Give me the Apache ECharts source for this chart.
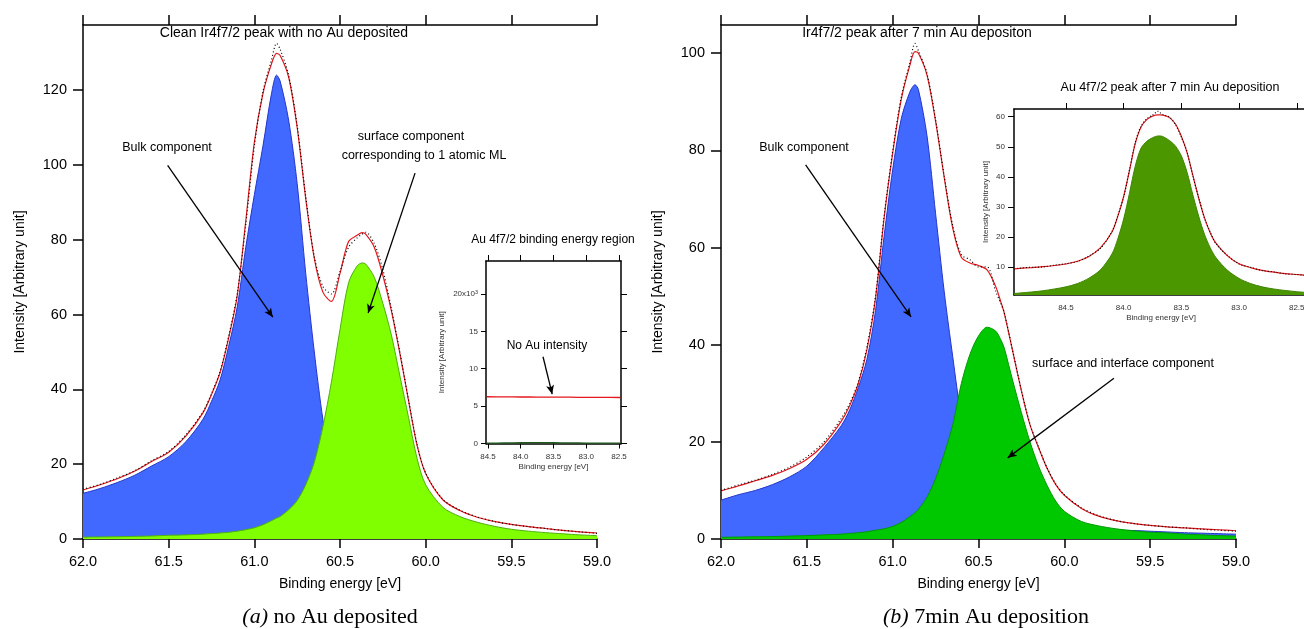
<!DOCTYPE html>
<html>
<head>
<meta charset="utf-8">
<title>Ir4f7/2 XPS</title>
<script src="https://cdn.jsdelivr.net/npm/echarts@6/dist/echarts.min.js"></script>
<style>
html, body { margin: 0; padding: 0; background: #fff; }
#xpsChart { width: 1304px; height: 629px; }
</style>
</head>
<body>
<div id="xpsChart"></div>
<script>
// 结合能 (eV) 
var energyIr = [62.0, 61.9, 61.8, 61.7, 61.6, 61.5, 61.4, 61.3, 61.25, 61.2, 61.15, 61.1, 61.05, 61.0, 60.95, 60.9, 60.87, 60.85, 60.8, 60.75, 60.7, 60.65, 60.6, 60.55, 60.5, 60.45, 60.4, 60.37, 60.35, 60.3, 60.25, 60.2, 60.15, 60.1, 60.05, 60.0, 59.9, 59.8, 59.7, 59.6, 59.5, 59.4, 59.3, 59.2, 59.1, 59.0];

// (a) 无Au
var bulkA = [12.2, 13.5, 15.1, 17.0, 19.5, 22.0, 26.0, 32.0, 36.8, 42.5, 51.5, 62, 78, 92, 105, 119, 124, 122.5, 112, 95, 71, 50, 32, 19, 13, 10, 7.5, 6.5, 6, 5, 4.2, 3.6, 3.1, 2.7, 2.4, 2.1, 1.7, 1.4, 1.2, 1.0, 0.9, 0.8, 0.7, 0.6, 0.55, 0.5];
var surfA = [0.5, 0.55, 0.6, 0.7, 0.8, 1.0, 1.1, 1.3, 1.45, 1.6, 1.8, 2.1, 2.5, 3.0, 3.8, 4.9, 5.6, 6.0, 7.8, 10.3, 14.5, 20.5, 30, 42, 56, 68.5, 73, 73.8, 73.5, 70, 63, 54.5, 43.5, 32.5, 21.5, 14.5, 8.5, 6.0, 4.5, 3.4, 2.6, 2.1, 1.7, 1.4, 1.1, 0.9];
var fitA = [13.1, 14.5, 16.1, 18.1, 20.7, 23.2, 27.5, 33.7, 38.6, 44.5, 53.7, 65, 85, 106, 119, 127, 129.8, 129.3, 123.5, 110, 91, 75, 66, 63.5, 71, 79.5, 81.2, 81.9, 81.5, 78, 70.5, 61, 49.5, 37, 25, 17.5, 10.5, 7.6, 5.8, 4.7, 3.9, 3.3, 2.8, 2.3, 1.9, 1.6];
var dataA = [13.3, 14.6, 16.3, 18.2, 20.9, 23.4, 27.8, 34.0, 38.9, 44.8, 54.2, 65.5, 84, 105, 119.5, 128, 132.5, 131, 124, 110.5, 91.5, 75.5, 67.5, 65.5, 71.5, 78, 80.5, 81.5, 82, 79, 72, 61.5, 49.8, 37.2, 25.2, 17.6, 10.6, 7.7, 5.9, 4.7, 3.9, 3.3, 2.8, 2.3, 1.9, 1.5];

// (b) 7min Au
var bulkB = [8.0, 9.1, 10.0, 11.2, 12.8, 15.0, 18.8, 23.3, 26.6, 31.2, 37, 47, 62.3, 76, 86.5, 92, 93.5, 92.5, 83, 67, 51, 37.5, 25, 17, 12, 8.8, 6.6, 5.6, 5.0, 4.0, 3.4, 3.0, 2.7, 2.5, 2.3, 2.2, 2.0, 1.9, 1.8, 1.75, 1.6, 1.45, 1.3, 1.2, 1.1, 1.0];
var surfB = [0.35, 0.4, 0.45, 0.5, 0.6, 0.7, 0.85, 1.0, 1.15, 1.3, 1.5, 1.8, 2.1, 2.6, 3.4, 4.6, 5.4, 6.1, 8.6, 12.4, 17.5, 23.5, 32, 38, 41.8, 43.6, 42.8, 41, 39.3, 32.5, 26, 20, 15, 11, 7.8, 5.7, 3.6, 2.7, 2.1, 1.7, 1.4, 1.25, 1.0, 0.85, 0.7, 0.6];
var fitB = [9.9, 10.9, 12.0, 13.1, 14.5, 16.4, 19.5, 24.2, 27.5, 32, 39, 49.5, 66, 79.4, 90.5, 97.5, 100.3, 100, 95.5, 86, 74.5, 64, 58, 56.8, 56.3, 55.4, 52, 48.8, 46.5, 38.5, 30.5, 23.5, 18.8, 14.5, 11.2, 9.0, 6.3, 4.7, 3.8, 3.2, 2.8, 2.5, 2.3, 2.1, 1.9, 1.7];
var dataB = [10.0, 11.1, 12.1, 13.3, 14.8, 16.9, 20.0, 24.8, 27.9, 32.4, 39.5, 50, 66.5, 79.8, 91, 98, 102, 100.5, 95.8, 86.3, 74.8, 64.5, 58.5, 57.5, 56, 56, 51, 48.5, 46.6, 38.6, 30.6, 23.6, 18.9, 14.6, 11.3, 9.1, 6.4, 4.8, 3.8, 3.2, 2.8, 2.5, 2.3, 2.0, 1.8, 1.6];

// Au 4f7/2 插图
var energyAuA = [84.52, 84.25, 84.0, 83.75, 83.5, 83.25, 83.0, 82.75, 82.48];
var auFitA = [6.25, 6.24, 6.22, 6.21, 6.2, 6.19, 6.17, 6.16, 6.15];
var auBaseA = [0.05, 0.07, 0.1, 0.12, 0.1, 0.08, 0.06, 0.05, 0.05];

var energyAu = [84.95, 84.9, 84.8, 84.7, 84.6, 84.5, 84.4, 84.3, 84.2, 84.1, 84.05, 84.0, 83.95, 83.9, 83.85, 83.8, 83.75, 83.7, 83.68, 83.65, 83.6, 83.55, 83.5, 83.45, 83.4, 83.35, 83.3, 83.25, 83.2, 83.1, 83.0, 82.9, 82.8, 82.7, 82.6, 82.5, 82.4];
var auPeakB = [1.3, 1.45, 1.8, 2.2, 2.8, 3.5, 4.6, 6.4, 9.2, 14.5, 19.5, 26, 34.5, 43.5, 49.5, 51.8, 53.0, 53.6, 53.6, 53.2, 52.0, 50.2, 47, 41.5, 34, 27, 21, 16.5, 13.2, 9.0, 6.3, 4.6, 3.5, 2.8, 2.3, 1.9, 1.6];
var auFitB = [9.5, 9.65, 9.9, 10.2, 10.6, 11.1, 12.0, 13.6, 16.5, 21.8, 27, 33.5, 42, 51, 56.5, 59, 60.2, 60.6, 60.6, 60.4, 59.6, 57.5, 53.5, 48, 40.5, 33, 26.5, 21.5, 18, 13.8, 11.2, 9.9, 9.0, 8.4, 7.9, 7.6, 7.3];
var auDataB = [9.4, 9.7, 10.0, 10.1, 10.7, 11.2, 11.9, 13.8, 16.3, 22, 27.2, 33.3, 42.3, 51.4, 56.8, 59.3, 60.5, 61.8, 61.2, 60.6, 59.8, 57.3, 53.2, 48.3, 40.2, 33.2, 26.3, 21.7, 17.8, 13.9, 11.1, 10.0, 8.9, 8.5, 7.8, 7.6, 7.2];

// 刻度
var ticksIr = [62, 61.5, 61, 60.5, 60, 59.5, 59];
var ticksYA = [0, 20, 40, 60, 80, 100, 120];
var ticksYB = [0, 20, 40, 60, 80, 100];
var ticksAu = [84.5, 84, 83.5, 83, 82.5];
var ticksYAuA = [0, 5, 10, 15, 20];
var ticksYAuB = [10, 20, 30, 40, 50, 60];

// 箭头 [起点, 终点] (数据坐标)
var arrowsA = [[[61.506, 99.9], [60.892, 59.3]], [[60.062, 97.8], [60.336, 60.4]]];
var arrowsB = [[[61.507, 77.0], [60.893, 45.7]], [[59.711, 33.1], [60.33, 16.7]]];
var arrowsAuA = [[[83.66, 11.6], [83.52, 6.6]]];

var font = 'Liberation Sans, Arial, sans-serif';
var black = { color: '#000', width: 1.5 };
var thin = { color: '#000', width: 1 };

function pairs(xs, ys) {
	return xs.map(function (x, i) { return [x, ys[i]]; });
}
function fmt1(v) { return Number(v).toFixed(1); }

function arrowLines(list) {
	return {
		silent: true,
		animation: false,
		symbol: ['none', 'arrow'],
		symbolSize: [6, 9],
		lineStyle: { color: '#000', width: 1.3, type: 'solid' },
		label: { show: false },
		data: list.map(function (a) {
			return [{ coord: a[0] }, { coord: a[1] }];
		})
	};
}

// 主图x轴 (底部带标签, 顶部只有刻度)
function mainX(gi, top) {
	return {
		gridIndex: gi, type: 'value', inverse: true, min: 59, max: 62,
		position: top ? 'top' : 'bottom',
		axisLine: { onZero: false, lineStyle: black },
		axisTick: { length: top ? 10 : 9, customValues: ticksIr, lineStyle: black },
		axisLabel: top ? { show: false } : {
			customValues: ticksIr, formatter: fmt1, fontSize: 14.5, color: '#000', margin: 15, fontFamily: font
		},
		splitLine: { show: false },
		name: top ? '' : 'Binding energy [eV]',
		nameLocation: 'middle', nameGap: 38,
		nameTextStyle: { fontSize: 14, color: '#000', fontFamily: font }
	};
}
function mainY(gi, max, ticks) {
	return {
		gridIndex: gi, type: 'value', min: 0, max: max,
		axisLine: { show: true, onZero: false, lineStyle: black },
		axisTick: { show: true, length: 10, customValues: ticks, lineStyle: black },
		axisLabel: { customValues: ticks, fontSize: 14.5, color: '#000', margin: 16, fontFamily: font },
		splitLine: { show: false },
		name: 'Intensity [Arbitrary unit]', nameLocation: 'middle', nameGap: 56,
		nameTextStyle: { fontSize: 14, color: '#000', fontFamily: font }
	};
}
// 插图的轴
function insetX(gi, min, max, top, tickLen) {
	return {
		gridIndex: gi, type: 'value', inverse: true, min: min, max: max,
		position: top ? 'top' : 'bottom',
		axisLine: { onZero: false, lineStyle: black },
		axisTick: { show: tickLen > 0, length: tickLen, customValues: ticksAu, lineStyle: thin },
		axisLabel: top ? { show: false } : {
			customValues: ticksAu, formatter: fmt1, fontSize: 8, color: '#333', margin: 9, fontFamily: font
		},
		splitLine: { show: false },
		name: top ? '' : 'Binding energy [eV]',
		nameLocation: 'middle', nameGap: 19,
		nameTextStyle: { fontSize: 8, color: '#333', fontFamily: font }
	};
}

// 填充峰 (z 决定叠放顺序)
function area(xi, yi, xs, ys, fill, edge, z) {
	return {
		type: 'line', xAxisIndex: xi, yAxisIndex: yi, data: pairs(xs, ys), z: z,
		smooth: 0.3, showSymbol: false, symbol: 'none',
		lineStyle: { color: edge, width: 1 },
		areaStyle: { color: fill, opacity: 1 }
	};
}
function curve(xi, yi, xs, ys, color, width, dash, z) {
	return {
		type: 'line', xAxisIndex: xi, yAxisIndex: yi, data: pairs(xs, ys), z: z || 4,
		smooth: 0.3, showSymbol: false, symbol: 'none',
		lineStyle: { color: color, width: width, type: dash || 'solid' }
	};
}

function label(text, x, y, size) {
	return {
		type: 'text', x: x, y: y, silent: true,
		style: { text: text, fill: '#000', fontSize: size, fontFamily: font, align: 'center', verticalAlign: 'middle' }
	};
}
function caption(tag, text, x, y) {
	return {
		type: 'text', x: x, y: y, silent: true,
		style: {
			text: '{i|' + tag + '} ' + text, fill: '#000', fontSize: 22, fontFamily: 'Liberation Serif, Times New Roman, serif',
			align: 'center', verticalAlign: 'middle',
			rich: { i: { fontStyle: 'italic', fontSize: 22, fontFamily: 'Liberation Serif, Times New Roman, serif' } }
		}
	};
}

var chart = echarts.init(document.getElementById('xpsChart'), null, { renderer: 'canvas' });

var redCurve = '#e3171c';

var fitSeriesA = curve(0, 0, energyIr, fitA, redCurve, 1.2);
fitSeriesA.markLine = arrowLines(arrowsA);
var fitSeriesB = curve(4, 3, energyIr, fitB, redCurve, 1.2);
fitSeriesB.markLine = arrowLines(arrowsB);
var fitSeriesAuA = curve(2, 1, energyAuA, auFitA, redCurve, 1.3);
fitSeriesAuA.markLine = arrowLines(arrowsAuA);

chart.setOption({
	animation: false,
	backgroundColor: '#fff',
	grid: [
		{ left: 83, top: 25, width: 514, height: 514, outerBoundsMode: 'none' },
		{ left: 486, top: 261, width: 135, height: 182.5, outerBoundsMode: 'none' },
		{ left: 721, top: 25, width: 515, height: 514, outerBoundsMode: 'none' },
		{ left: 1014, top: 109, width: 294.3, height: 186, outerBoundsMode: 'none' }
	],
	xAxis: [
		mainX(0, false), mainX(0, true),
		insetX(1, 82.47, 84.53, false, 5), insetX(1, 82.47, 84.53, true, 6),
		mainX(2, false), mainX(2, true),
		insetX(3, 82.4, 84.95, false, 0), insetX(3, 82.4, 84.95, true, 6)
	],
	yAxis: [
		mainY(0, 137.4, ticksYA),
		{
			gridIndex: 1, type: 'value', min: 0, max: 24.4,
			axisLine: { show: true, onZero: false, lineStyle: black },
			axisTick: { show: true, length: 5, customValues: ticksYAuA, lineStyle: thin },
			axisLabel: {
				customValues: ticksYAuA, fontSize: 8, color: '#333', margin: 8, fontFamily: font,
				formatter: function (v) { return v === 20 ? '20x10{s|3}' : String(v); },
				rich: { s: { fontSize: 5.5, color: '#333', verticalAlign: 'top', fontFamily: font } }
			},
			splitLine: { show: false },
			name: 'Intensity [Arbitrary unit]', nameLocation: 'middle', nameGap: 40,
			nameTextStyle: { fontSize: 8, color: '#333', fontFamily: font }
		},
		{
			gridIndex: 1, type: 'value', min: 0, max: 24.4, position: 'right',
			axisLine: { show: true, onZero: false, lineStyle: black },
			axisTick: { show: true, length: 6, customValues: ticksYAuA, lineStyle: thin },
			axisLabel: { show: false },
			splitLine: { show: false }
		},
		mainY(2, 105.8, ticksYB),
		{
			gridIndex: 3, type: 'value', min: 0.8, max: 62.55,
			axisLine: { show: true, onZero: false, lineStyle: black },
			axisTick: { show: true, length: 6, customValues: ticksYAuB, lineStyle: thin },
			axisLabel: { customValues: ticksYAuB, fontSize: 8, color: '#333', margin: 9, fontFamily: font },
			splitLine: { show: false },
			name: 'Intensity [Arbitrary unit]', nameLocation: 'middle', nameGap: 24,
			nameTextStyle: { fontSize: 8, color: '#333', fontFamily: font }
		}
	],
	series: [
		// (a)
		area(0, 0, energyIr, bulkA, '#4169ff', '#2536c8', 2),
		area(0, 0, energyIr, surfA, '#7fff00', '#4fae10', 3),
		fitSeriesA,
		curve(0, 0, energyIr, dataA, '#000', 1.2, [1, 2.5], 5),
		// (a) 插图
		curve(2, 1, energyAuA, auBaseA, '#1f5a1f', 1.3),
		fitSeriesAuA,
		// (b)
		area(4, 3, energyIr, bulkB, '#4169ff', '#2536c8', 2),
		area(4, 3, energyIr, surfB, '#00c800', '#009a00', 3),
		fitSeriesB,
		curve(4, 3, energyIr, dataB, '#000', 1.2, [1, 2.5], 5),
		// (b) 插图
		area(6, 4, energyAu, auPeakB, '#4b9700', '#3f8500', 3),
		curve(6, 4, energyAu, auFitB, redCurve, 1.2),
		curve(6, 4, energyAu, auDataB, '#000', 1.1, [1, 2], 5)
	],
	graphic: [
		label('Clean Ir4f7/2 peak with no Au deposited', 284, 33, 14),
		label('Bulk component', 167, 148, 12.5),
		label('surface component', 411, 137, 12.5),
		label('corresponding to 1 atomic ML', 424, 156, 12.5),
		label('Au 4f7/2 binding energy region', 553, 240, 12),
		label('No Au intensity', 547, 346, 12),
		label('Ir4f7/2 peak after 7 min Au depositon', 917, 33, 14),
		label('Bulk component', 804, 148, 12.5),
		label('surface and interface component', 1123, 364, 12.5),
		label('Au 4f7/2 peak after 7 min Au deposition', 1170, 88, 12.5),
		caption('(a)', 'no Au deposited', 330, 617),
		caption('(b)', '7min Au deposition', 986, 617)
	]
});
</script>
</body>
</html>
